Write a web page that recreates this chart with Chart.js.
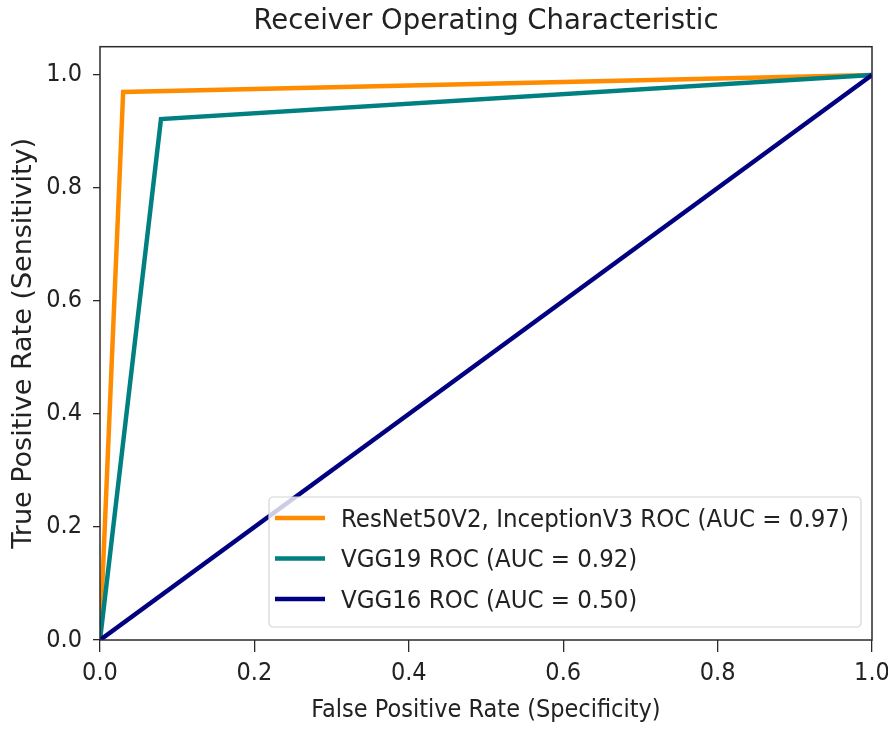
<!DOCTYPE html>
<html>
<head>
<meta charset="utf-8">
<script src="https://cdn.jsdelivr.net/npm/chart.js@4.4.0/dist/chart.umd.min.js"></script>
<style>
  html, body { margin: 0; padding: 0; background: #fff; }
  #wrap { width: 888px; height: 729px; }
</style>
</head>
<body>
<div id="wrap"><canvas id="roc"></canvas></div>
<script>
// values
var labels = ['ResNet50V2, InceptionV3 ROC (AUC = 0.97)', 'VGG19 ROC (AUC = 0.92)', 'VGG16 ROC (AUC = 0.50)'];
var resnetFpr = [0, 0.030, 1];
var resnetTpr = [0, 0.970, 1];
var vgg19Fpr = [0, 0.079, 1];
var vgg19Tpr = [0, 0.922, 1];
var vgg16Fpr = [0, 1];
var vgg16Tpr = [0, 1];
var xTicks = [0, 0.2, 0.4, 0.6, 0.8, 1.0];
var yTicks = [0, 0.2, 0.4, 0.6, 0.8, 1.0];

var NARROW = "'DejaVu Sans Condensed', 'DejaVu Sans', sans-serif";
var WIDE = "'DejaVu Sans', sans-serif";
var colors = ['#ff8c00', '#008080', '#000080'];

function pts(xs, ys) {
  var out = [];
  for (var i = 0; i < xs.length; i++) out.push({x: xs[i], y: ys[i]});
  return out;
}

// frame + legend inside the plot, like matplotlib
var framePlugin = {
  id: 'frame',
  afterDatasetsDraw: function(chart) {
    var ctx = chart.ctx, a = chart.chartArea;
    ctx.save();
    ctx.strokeStyle = '#2a2a2a';
    ctx.lineWidth = 1.5;
    ctx.strokeRect(a.left, a.top, a.right - a.left, a.bottom - a.top);
    ctx.restore();
  },
  afterDraw: function(chart) {
    var ctx = chart.ctx;
    var bx = 269, by = 497, bw = 592, bh = 130, r = 4;
    ctx.save();
    ctx.beginPath();
    ctx.moveTo(bx + r, by);
    ctx.arcTo(bx + bw, by, bx + bw, by + bh, r);
    ctx.arcTo(bx + bw, by + bh, bx, by + bh, r);
    ctx.arcTo(bx, by + bh, bx, by, r);
    ctx.arcTo(bx, by, bx + bw, by, r);
    ctx.closePath();
    ctx.fillStyle = 'rgba(255,255,255,0.8)';
    ctx.fill();
    ctx.strokeStyle = '#d4d4d4';
    ctx.lineWidth = 1.2;
    ctx.stroke();
    ctx.font = '25.5px ' + NARROW;
    ctx.textBaseline = 'middle';
    ctx.fillStyle = '#222';
    chart.data.datasets.forEach(function(ds, i) {
      var yy = by + 21 + i * 40.5;
      ctx.strokeStyle = ds.borderColor;
      ctx.lineWidth = 4.5;
      ctx.beginPath();
      ctx.moveTo(275, yy);
      ctx.lineTo(325, yy);
      ctx.stroke();
      ctx.fillText(ds.label, 341, yy + 2);
    });
    ctx.restore();
  }
};

function fixTicks(list) {
  return function(scale) {
    scale.ticks = list.map(function(v) { return {value: v}; });
  };
}

new Chart(document.getElementById('roc'), {
  type: 'scatter',
  data: {
    datasets: [
      {label: labels[0], data: pts(resnetFpr, resnetTpr), borderColor: colors[0], order: 3},
      {label: labels[1], data: pts(vgg19Fpr, vgg19Tpr), borderColor: colors[1], order: 2},
      {label: labels[2], data: pts(vgg16Fpr, vgg16Tpr), borderColor: colors[2], order: 1}
    ].map(function(d) {
      d.showLine = true;
      d.borderWidth = 4.5;
      d.pointRadius = 0;
      d.backgroundColor = d.borderColor;
      d.tension = 0;
      return d;
    })
  },
  options: {
    responsive: true,
    maintainAspectRatio: false,
    animation: false,
    layout: {padding: {left: 0, right: 16, top: 0, bottom: 0}},
    plugins: {
      legend: {display: false},
      tooltip: {enabled: false},
      title: {
        display: true,
        fullSize: false,
        text: 'Receiver Operating Characteristic',
        color: '#222',
        font: {family: WIDE, size: 27.5, weight: 'normal', lineHeight: 1.2},
        padding: {top: 5, bottom: 8.7}
      }
    },
    scales: {
      x: {
        type: 'linear',
        min: 0, max: 1,
        afterBuildTicks: fixTicks(xTicks),
        afterFit: function(s) { s.height = 89; s.paddingLeft = 0; s.paddingRight = 0; },
        grid: {drawOnChartArea: false, drawTicks: true, tickLength: 12, color: '#2a2a2a', lineWidth: 1.3},
        border: {display: false},
        ticks: {
          color: '#222', padding: 6,
          font: {family: NARROW, size: 25},
          callback: function(v) { return Number(v).toFixed(1); }
        },
        title: {
          display: true, text: 'False Positive Rate (Specificity)', color: '#222',
          font: {family: NARROW, size: 25, lineHeight: 1.2},
          padding: {top: 0, bottom: 3.5}
        }
      },
      y: {
        type: 'linear',
        min: 0, max: 1.05,
        afterBuildTicks: fixTicks(yTicks),
        afterFit: function(s) { s.width = 100; s.paddingTop = 0; s.paddingBottom = 0; },
        grid: {drawOnChartArea: false, drawTicks: true, tickLength: 7, color: '#2a2a2a', lineWidth: 1.3},
        border: {display: false},
        ticks: {
          color: '#222', padding: 11,
          font: {family: NARROW, size: 25},
          callback: function(v) { return Number(v).toFixed(1); }
        },
        title: {
          display: true, text: 'True Positive Rate (Sensitivity)', color: '#222',
          font: {family: WIDE, size: 27, lineHeight: 1.2},
          padding: {top: 8, bottom: 0}
        }
      }
    }
  },
  plugins: [framePlugin]
});
</script>
</body>
</html>
